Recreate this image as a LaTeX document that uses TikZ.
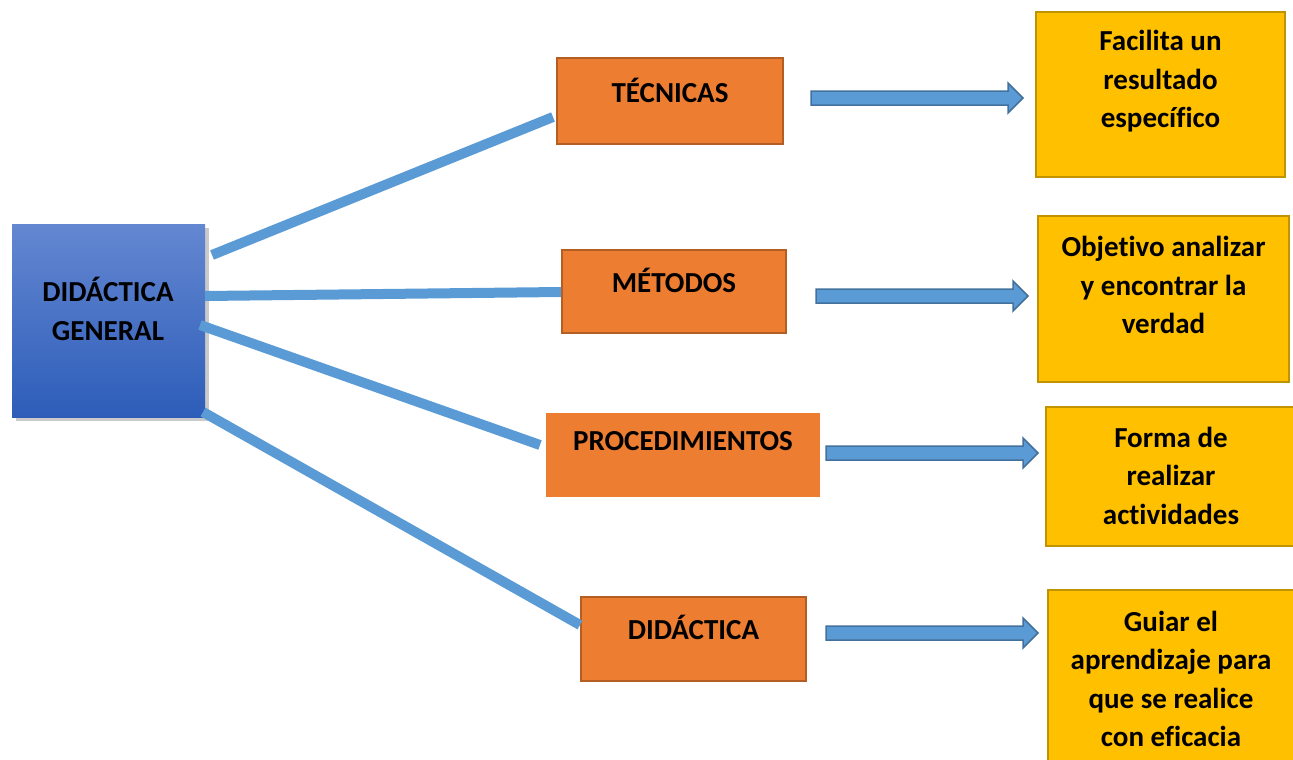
\documentclass[tikz,border=0pt]{standalone}
\usepackage{fontspec}
\setmainfont{Carlito}[Ligatures={NoCommon}]
\usetikzlibrary{shadows,calc}
\definecolor{lineblue}{HTML}{5B9BD5}
\definecolor{arrowedge}{HTML}{41719C}
\definecolor{orangefill}{HTML}{ED7D31}
\definecolor{orangeedge}{HTML}{B35F24}
\definecolor{yellowfill}{HTML}{FFC000}
\definecolor{yellowedge}{HTML}{C09300}
\definecolor{bluetop}{HTML}{6487D1}
\definecolor{bluebot}{HTML}{2D5DB9}
\tikzset{
  txt/.style={font=\fontsize{29}{38.5}\selectfont\bfseries, align=center, text=black},
  obox/.style={draw=orangeedge, line width=1.5pt, fill=orangefill, inner sep=0pt},
  ybox/.style={draw=yellowedge, line width=1.8pt, fill=yellowfill, inner sep=0pt},
  conn/.style={draw=lineblue, line width=10pt},
  barrow/.style={fill=lineblue, draw=arrowedge, line width=1.5pt, line join=miter},
}
\begin{document}
\begin{tikzpicture}[x=1pt,y=-1pt]
\useasboundingbox (0,0) rectangle (1293,760);
% main box
\node[draw=none, top color=bluetop, bottom color=bluebot, minimum width=193pt, minimum height=193pt, inner sep=0pt,
      drop shadow={shadow xshift=4pt, shadow yshift=-4pt, opacity=0.35, fill=black!60}] (dg) at (108.5,320.5) {};
\node[txt, anchor=center] (dgt) at (108,309) {DIDÁCTICA\\GENERAL};
% orange boxes
\node[obox, minimum width=226pt, minimum height=86pt, label={[txt, yshift=11pt]center:TÉCNICAS}] (tec) at (670,101) {};
\node[obox, minimum width=224pt, minimum height=83pt, label={[txt, yshift=11.5pt]center:MÉTODOS}] (met) at (674,291.5) {};
\node[draw=none, fill=orangefill, inner sep=0pt, minimum width=274pt, minimum height=84pt, label={[txt, yshift=14pt]center:PROCEDIMIENTOS}] (pro) at (683,455) {};
\node[obox, minimum width=225pt, minimum height=84pt, label={[txt, yshift=12pt]center:DIDÁCTICA}] (did) at (693.5,639) {};
% yellow boxes
\node[ybox, minimum width=249pt, minimum height=165pt, label={[txt, yshift=13pt]center:Facilita un\\resultado\\específico}] (y1) at (1160.5,94.5) {};
\node[ybox, minimum width=251pt, minimum height=166pt, label={[txt, yshift=14pt]center:Objetivo analizar\\y encontrar la\\verdad}] (y2) at (1163.5,299) {};
\node[ybox, minimum width=250pt, minimum height=139pt, label={[txt, yshift=1pt]center:Forma de\\realizar\\actividades}] (y3) at (1171,476.5) {};
\node[ybox, minimum width=250pt, minimum height=190pt] (y4) at (1173,685) {};
\node[txt, anchor=center] (y4t) at (1171,679) {Guiar el\\aprendizaje para\\que se realice\\con eficacia};
% connector end points
\coordinate (s1) at (212,255); \coordinate (e1) at (553,117);
\coordinate (s2) at (205,296); \coordinate (e2) at (561,292);
\coordinate (s3) at (200,325); \coordinate (e3) at (540,445);
\coordinate (s4) at (203,412); \coordinate (e4) at (580,625);
\draw[conn] (s1) -- (e1);
\draw[conn] (s2) -- (e2);
\draw[conn] (s3) -- (e3);
\draw[conn] (s4) -- (e4);
% block arrows
\coordinate (a1) at (811,98);
\coordinate (a2) at (816,296);
\coordinate (a3) at (826,453);
\coordinate (a4) at (826,633);
\foreach \c in {a1,a2,a3,a4}{
  \draw[barrow] (\c) ++(0,-7) -- ++(197,0) -- ++(0,-8) -- ++(15,15) -- ++(-15,15) -- ++(0,-8) -- ++(-197,0) -- cycle;
}
\end{tikzpicture}
\end{document}
